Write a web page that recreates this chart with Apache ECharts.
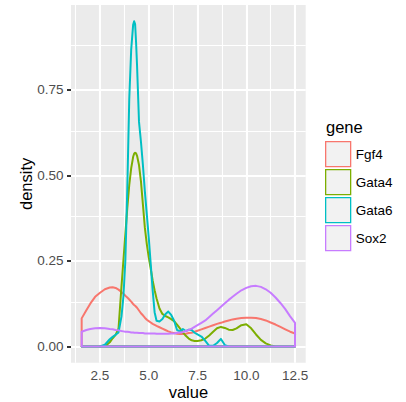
<!DOCTYPE html>
<html>
<head>
<meta charset="utf-8">
<script src="https://cdn.jsdelivr.net/npm/echarts@6/dist/echarts.min.js"></script>
<style>
  html, body { margin: 0; padding: 0; background: #ffffff; }
  #chart { width: 406px; height: 402px; }
</style>
</head>
<body>
<div id="chart"></div>
<script>
// Evaluation grid shared by every density curve (value axis)
const xGrid = [1.56, 1.8, 2.0, 2.25, 2.5, 2.75, 3.0, 3.15, 3.3, 3.45, 3.6, 3.7, 3.8, 3.9, 4.0, 4.1, 4.2, 4.25, 4.3, 4.35,
  4.4, 4.5, 4.6, 4.7, 4.8, 4.9, 5.0, 5.1, 5.2, 5.3, 5.4, 5.55, 5.7, 5.85, 6.0, 6.15, 6.3, 6.45, 6.6, 6.75,
  6.9, 7.05, 7.2, 7.35, 7.5, 7.7, 7.9, 8.1, 8.3, 8.5, 8.7, 8.9, 9.1, 9.3, 9.5, 9.75, 10.0, 10.25, 10.5, 10.75,
  11.0, 11.25, 11.5, 11.75, 12.0, 12.25, 12.5];

// Density estimates per gene, one value per xGrid entry
const fgf4 = [0.082, 0.106, 0.125, 0.145, 0.157, 0.167, 0.172, 0.173, 0.171, 0.166, 0.159, 0.154, 0.148, 0.143, 0.137, 0.131, 0.124, 0.121, 0.119, 0.116,
  0.113, 0.105, 0.097, 0.091, 0.084, 0.078, 0.074, 0.070, 0.066, 0.063, 0.060, 0.056, 0.052, 0.048, 0.044, 0.041, 0.039, 0.037, 0.036, 0.036,
  0.037, 0.039, 0.040, 0.043, 0.046, 0.050, 0.054, 0.058, 0.062, 0.066, 0.069, 0.073, 0.076, 0.079, 0.081, 0.083, 0.084, 0.084, 0.083, 0.080,
  0.076, 0.070, 0.064, 0.057, 0.050, 0.043, 0.038];
const gata4 = [0, 0, 0, 0, 0, 0, 0.012, 0.024, 0.034, 0.053, 0.174, 0.251, 0.328, 0.405, 0.472, 0.521, 0.554, 0.563, 0.566, 0.564,
  0.557, 0.530, 0.482, 0.415, 0.347, 0.299, 0.260, 0.227, 0.193, 0.164, 0.140, 0.111, 0.095, 0.089, 0.085, 0.080, 0.074, 0.064, 0.053, 0.041,
  0.031, 0.023, 0.018, 0.016, 0.016, 0.018, 0.023, 0.032, 0.043, 0.053, 0.057, 0.054, 0.049, 0.048, 0.053, 0.062, 0.065, 0.053, 0.035, 0.019,
  0.009, 0.003, 0, 0, 0, 0, 0];
const gata6 = [0, 0, 0, 0, 0, 0.005, 0.021, 0.028, 0.034, 0.041, 0.087, 0.145, 0.251, 0.463, 0.723, 0.868, 0.940, 0.950, 0.942, 0.888,
  0.820, 0.656, 0.598, 0.530, 0.453, 0.386, 0.318, 0.241, 0.164, 0.100, 0.075, 0.073, 0.080, 0.094, 0.102, 0.092, 0.075, 0.048, 0.044, 0.051,
  0.045, 0.049, 0.048, 0.040, 0.035, 0.029, 0.016, 0.002, 0.002, 0.010, 0.022, 0.004, 0, 0, 0, 0, 0, 0, 0, 0,
  0, 0, 0, 0, 0, 0, 0];
const sox2 = [0.043, 0.048, 0.051, 0.053, 0.054, 0.053, 0.051, 0.050, 0.048, 0.047, 0.045, 0.044, 0.043, 0.043, 0.042, 0.041, 0.041, 0.040, 0.040, 0.040,
  0.040, 0.039, 0.039, 0.039, 0.038, 0.038, 0.038, 0.038, 0.038, 0.038, 0.037, 0.037, 0.037, 0.037, 0.037, 0.038, 0.038, 0.040, 0.041, 0.042,
  0.045, 0.048, 0.052, 0.057, 0.062, 0.069, 0.076, 0.086, 0.096, 0.106, 0.116, 0.126, 0.136, 0.145, 0.154, 0.164, 0.171, 0.176, 0.177, 0.174,
  0.167, 0.157, 0.143, 0.127, 0.109, 0.088, 0.069];

const genes = ['Fgf4', 'Gata4', 'Gata6', 'Sox2'];
const geneValues = [fgf4, gata4, gata6, sox2];
const geneColors = ['#F8766D', '#7CAE00', '#00BFC4', '#C77CFF'];

// Axis breaks
const xTicks = [2.5, 5.0, 7.5, 10.0, 12.5];
const xMinor = [1.25, 3.75, 6.25, 8.75, 11.25];
const yTicks = [0, 0.25, 0.5, 0.75];
const yMinor = [0.125, 0.375, 0.625, 0.875];

const FONT = "'Liberation Sans', Arial, Helvetica, sans-serif";

// Closed outline: up the left edge, along the curve, down the right edge, back along zero
function outline(values) {
  const pts = [[xGrid[0], 0]];
  for (let i = 0; i < xGrid.length; i++) pts.push([xGrid[i], values[i]]);
  pts.push([xGrid[xGrid.length - 1], 0]);
  pts.push([xGrid[0], 0]);
  return pts;
}

const gridLines = [];
xMinor.forEach(v => gridLines.push({ xAxis: v, lineStyle: { width: 1.1 } }));
yMinor.forEach(v => gridLines.push({ yAxis: v, lineStyle: { width: 1.1 } }));
xTicks.forEach(v => gridLines.push({ xAxis: v, lineStyle: { width: 2.1 } }));
yTicks.forEach(v => gridLines.push({ yAxis: v, lineStyle: { width: 2.1 } }));

const series = [{
  name: 'panel-grid',
  type: 'line',
  data: [],
  z: 1,
  silent: true,
  markLine: {
    z: 1,
    silent: true,
    symbol: ['none', 'none'],
    label: { show: false },
    emphasis: { disabled: true },
    animation: false,
    lineStyle: { color: '#ffffff', type: 'solid', width: 2 },
    data: gridLines
  }
}];
genes.forEach((g, i) => {
  series.push({
    name: g,
    type: 'line',
    data: outline(geneValues[i]),
    showSymbol: false,
    symbol: 'none',
    smooth: false,
    silent: true,
    z: 3 + i,
    lineStyle: { color: geneColors[i], width: 2, join: 'round', cap: 'round' },
    itemStyle: { color: geneColors[i] },
    emphasis: { disabled: true }
  });
});

const chart = echarts.init(document.getElementById('chart'), null, { renderer: 'svg' });
chart.setOption({
  animation: false,
  backgroundColor: '#ffffff',
  textStyle: { fontFamily: FONT },
  title: {
    text: 'gene',
    left: 326,
    top: 118.5,
    padding: 0,
    textStyle: { fontFamily: FONT, fontSize: 16.5, fontWeight: 'normal', color: '#000000' }
  },
  legend: {
    orient: 'vertical',
    left: 325,
    top: 141,
    padding: 0,
    itemWidth: 25,
    itemHeight: 25,
    itemGap: 1.7,
    icon: 'rect',
    selectedMode: false,
    textStyle: { fontFamily: FONT, fontSize: 13.5, color: '#000000', padding: [0, 0, 0, 0] },
    data: genes.map((g, i) => ({
      name: g,
      icon: 'rect',
      itemStyle: { color: '#F2F2F2', borderColor: geneColors[i], borderWidth: 1.3 }
    }))
  },
  grid: {
    left: 71,
    top: 5,
    width: 234.7,
    height: 357.7,
    show: true,
    backgroundColor: '#EBEBEB',
    borderWidth: 0,
    containLabel: false,
    outerBoundsMode: 'none'
  },
  xAxis: {
    type: 'value',
    min: 1.013,
    max: 13.047,
    name: 'value',
    nameLocation: 'middle',
    nameGap: 21,
    nameMoveOverlap: false,
    nameTextStyle: { fontFamily: FONT, fontSize: 16.5, lineHeight: 16, color: '#000000' },
    axisLine: { show: false },
    splitLine: { show: false },
    axisTick: { show: true, customValues: xTicks, length: 4, lineStyle: { color: '#333333', width: 2 } },
    axisLabel: {
      customValues: xTicks,
      margin: 6,
      fontFamily: FONT,
      fontSize: 13.5,
      color: '#4D4D4D',
      formatter: v => v.toFixed(1)
    }
  },
  yAxis: {
    type: 'value',
    min: -0.0475,
    max: 0.9975,
    name: 'density',
    nameLocation: 'middle',
    nameRotate: 90,
    nameGap: 37,
    nameMoveOverlap: false,
    nameTextStyle: { fontFamily: FONT, fontSize: 16.5, color: '#000000' },
    axisLine: { show: false },
    splitLine: { show: false },
    axisTick: { show: true, customValues: yTicks, length: 4, lineStyle: { color: '#333333', width: 2 } },
    axisLabel: {
      customValues: yTicks,
      margin: 7.5,
      fontFamily: FONT,
      fontSize: 13.5,
      color: '#4D4D4D',
      formatter: v => v.toFixed(2)
    }
  },
  series: series
});
</script>
</body>
</html>
